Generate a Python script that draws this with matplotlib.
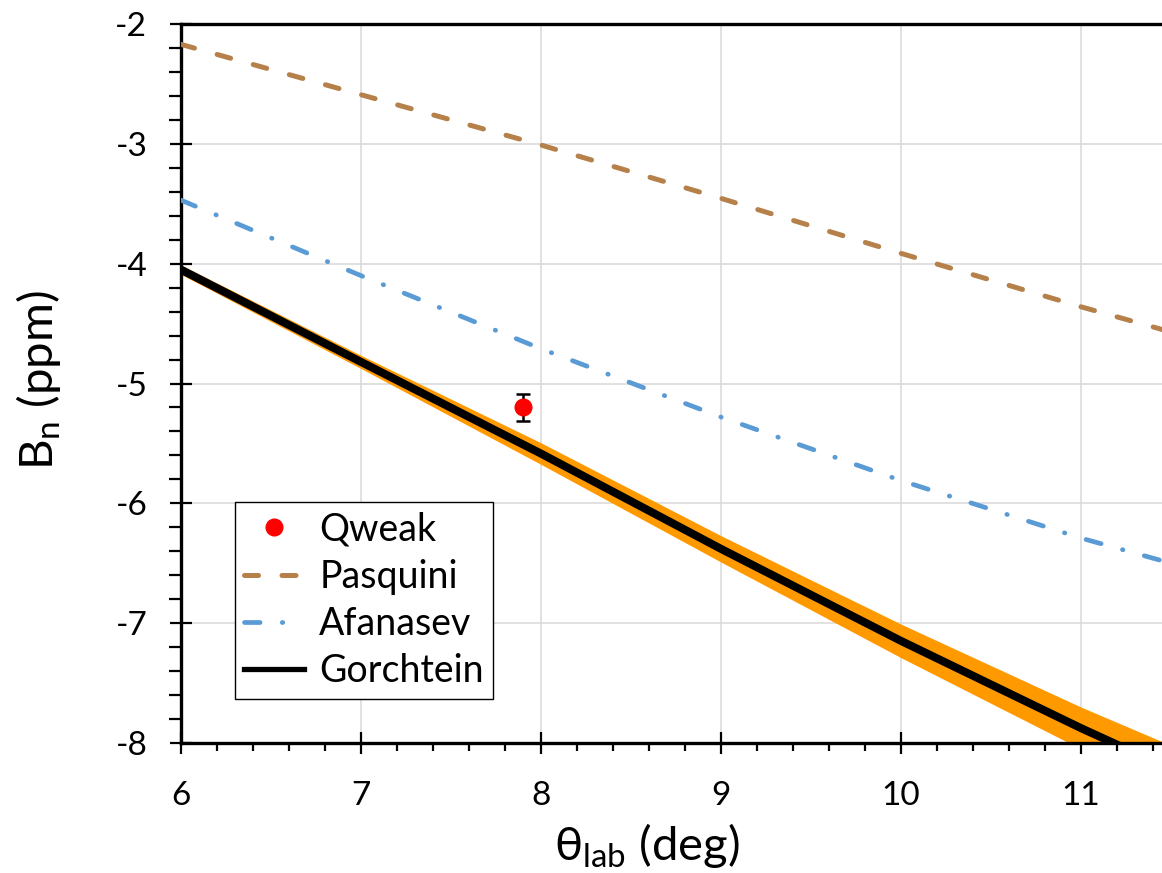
import matplotlib
matplotlib.use("Agg")
import matplotlib.pyplot as plt
from matplotlib.lines import Line2D
from matplotlib.ticker import MultipleLocator

# ---------------- data ----------------
theta = [6, 7, 8, 9, 10, 11, 11.5]
pasquini = [-2.17, -2.59, -3.01, -3.455, -3.914, -4.36, -4.57]
afanasev = [-3.47, -4.10, -4.71, -5.28, -5.81, -6.29, -6.50]
gorchtein = [-4.05, -4.82, -5.585, -6.38, -7.148, -7.876, -8.22]
gorchtein_hi = [-4.01, -4.765, -5.495, -6.27, -7.008, -7.70, -8.02]
gorchtein_lo = [-4.09, -4.875, -5.675, -6.49, -7.288, -8.05, -8.42]

qweak_theta = [7.9]
qweak_bn = [-5.20]
qweak_err = [0.11]

xticks = [6, 7, 8, 9, 10, 11]
yticks = [-8, -7, -6, -5, -4, -3, -2]

# ---------------- style ----------------
plt.rcParams['font.family'] = ['Lato', 'DejaVu Sans']
plt.rcParams['mathtext.default'] = 'regular'
plt.rcParams['axes.unicode_minus'] = False

c_pasq = '#b5804a'
c_afan = '#5b9bd5'
c_band = '#ff9900'

fig = plt.figure(figsize=(11.62, 8.73), dpi=100)
ax = fig.add_axes([181/1162, 130/873, 990/1162, 719/873])

ax.set_xlim(6, 11.5)
ax.set_ylim(-8, -2)

ax.grid(True, which='major', color='#d9d9d9', linewidth=1.1, zorder=0)
ax.set_axisbelow(True)

ax.fill_between(theta, gorchtein_lo, gorchtein_hi, color=c_band, linewidth=0, zorder=2)
ax.plot(theta, gorchtein, color='black', linewidth=5.8, solid_capstyle='butt', zorder=3)
ax.plot(theta, pasquini, color=c_pasq, linewidth=3.6, dashes=(2.8, 4.7),
        dash_capstyle='round', zorder=3)
ax.plot(theta, afanasev, color=c_afan, linewidth=3.4, dashes=(3.3, 4.7, 0.1, 4.7),
        dash_capstyle='round', zorder=3)
ax.errorbar(qweak_theta, qweak_bn, yerr=qweak_err, fmt='o', color='red',
            markersize=12, ecolor='black', elinewidth=1.8, capsize=5, capthick=1.8,
            zorder=4)

# axes / spines
for s in ['left', 'bottom', 'top']:
    ax.spines[s].set_linewidth(2.4)
    ax.spines[s].set_color('black')
ax.spines['right'].set_visible(False)

ax.set_xticks(xticks)
ax.set_yticks(yticks)
ax.xaxis.set_minor_locator(MultipleLocator(0.2))
ax.yaxis.set_minor_locator(MultipleLocator(0.2))
ax.tick_params(axis='both', which='major', direction='inout', length=16.5, width=1.6,
               labelsize=24, colors='black')
ax.tick_params(axis='y', which='major', pad=16)
ax.tick_params(axis='x', which='major', pad=19)
ax.tick_params(axis='y', which='minor', direction='out', length=8.4, width=1.6)
ax.tick_params(axis='x', which='minor', direction='out', length=6, width=1.6)
ax.tick_params(top=False, right=False, which='both')

ax.set_xlabel('θ$_{lab}$ (deg)', fontsize=34)
ax.set_ylabel('B$_{n}$ (ppm)', fontsize=34)
ax.xaxis.set_label_coords(0.4707, -0.1085)
ax.yaxis.set_label_coords(-0.119, 0.505)

handles = [
    Line2D([], [], linestyle='none', marker='o', color='red', markersize=12),
    Line2D([], [], color=c_pasq, linewidth=3.6, dashes=(2.8, 4.7), dash_capstyle='round'),
    Line2D([], [], color=c_afan, linewidth=3.4, dashes=(3.3, 4.7, 0.1, 4.7), dash_capstyle='round'),
    Line2D([], [], color='black', linewidth=3.8),
]
labels = ['Qweak', 'Pasquini', 'Afanasev', 'Gorchtein']
leg = ax.legend(handles, labels, loc='upper left', bbox_to_anchor=(0.0545, 0.335),
                borderaxespad=0, fontsize=27, frameon=True, fancybox=False,
                edgecolor='black', framealpha=1, handlelength=1.6,
                handletextpad=0.4, labelspacing=0.3, borderpad=0.25)
leg.get_frame().set_linewidth(1.0)

fig.savefig('out.png', dpi=100)
